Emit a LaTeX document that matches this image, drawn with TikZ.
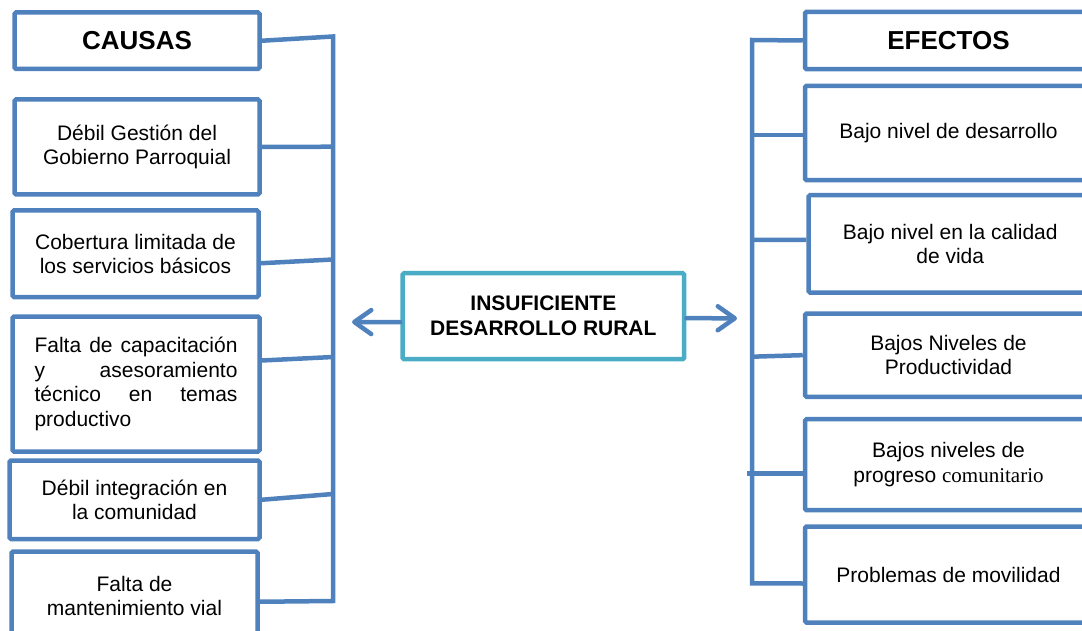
\documentclass[tikz,border=0pt]{standalone}
\usepackage{fontspec}
\setmainfont{Liberation Sans}
\newfontfamily\timesfont{Liberation Serif}
\usetikzlibrary{arrows.meta}
\definecolor{boxblue}{HTML}{4F81BD}
\definecolor{coreteal}{HTML}{4BACC6}

\begin{document}
\begin{tikzpicture}[x=1pt, y=-1pt,
  box/.style = {draw=boxblue, line width=4.5pt, rounded corners=1.5pt, fill=white, inner sep=0pt, align=center, font=\fontsize{21}{24.5}\selectfont},
  head/.style = {box, font=\fontsize{26}{30}\selectfont\bfseries},
  core/.style = {box, draw=coreteal, font=\fontsize{21}{25}\selectfont\bfseries},
  link/.style = {draw=boxblue, line width=4.5pt},
  tip/.style = {link, line cap=round, -{Straight Barb[length=17pt, width=24pt, round]}}]
\useasboundingbox (0,0) rectangle (1082,631);

\node[head, minimum width=245pt, minimum height=56.5pt] (c0) at (137,40.75) {CAUSAS};
\node[box, minimum width=245pt, minimum height=95pt] (c1) at (137,147) {Débil Gestión del\\Gobierno Parroquial};
\node[box, minimum width=246pt, minimum height=86.5pt] (c2) at (135.5,253.75) {Cobertura limitada de\\los servicios básicos};
\node[box, align=left, minimum width=247pt, minimum height=135pt] (c3) at (136,384) {\makebox[203pt][s]{Falta de capacitación}\\\makebox[203pt][s]{y asesoramiento}\\\makebox[203pt][s]{técnico en temas}\\productivo};
\node[box, minimum width=250pt, minimum height=78.5pt] (c4) at (134.5,499.75) {Débil integración en\\la comunidad};
\node[box, minimum width=246pt, minimum height=88.5pt] (c5) at (134.5,595.75) {Falta de\\mantenimiento vial};

\node[core, minimum width=281.7pt, minimum height=86pt] (core) at (543.35,316.2) {INSUFICIENTE\\DESARROLLO RURAL};

\node[head, minimum width=287pt, minimum height=57.4pt] (e0) at (948.5,40.5) {EFECTOS};
\node[box, minimum width=287pt, minimum height=94.4pt] (e1) at (948.5,133) {Bajo nivel de desarrollo};
\node[box, minimum width=283.5pt, minimum height=97.3pt] (e2) at (950.25,243.85) {Bajo nivel en la calidad\\de vida};
\node[box, minimum width=287pt, minimum height=83.3pt] (e3) at (948.5,355.15) {Bajos Niveles de\\Productividad};
\node[box, minimum width=287pt, minimum height=91pt] (e4) at (948.5,464.7) {Bajos niveles de\\progreso {\timesfont comunitario}};
\node[box, minimum width=287pt, minimum height=96pt] (e5) at (948.5,574.5) {Problemas de movilidad};

\coordinate (l0) at (333,36.5);
\coordinate (l1) at (333,146.7);
\coordinate (l2) at (333,259.5);
\coordinate (l3) at (333,357);
\coordinate (l4) at (333,494);
\coordinate (l5) at (333,601);
\coordinate (r0) at (752,40);
\coordinate (r1) at (752,135);
\coordinate (r2) at (752,240);
\coordinate (r3) at (752,356.7);
\coordinate (r4) at (747,473.3);
\coordinate (r5) at (752,583.3);
\coordinate (lt) at (352,322);
\coordinate (rt) at (737,318.3);

\draw[link] (c0.east) -- (l0) -- (l5) -- ([yshift=-6pt]c5.east);
\draw[link] (c1.east) -- (l1);
\draw[link] ([yshift=-9.5pt]c2.east) -- (l2);
\draw[link] ([yshift=23.5pt]c3.east) -- (l3);
\draw[link] (c4.east) -- (l4);

\draw[link] (e0.west) -- (r0) -- (r5) -- ([yshift=-9pt]e5.west);
\draw[link] ([yshift=-2pt]e1.west) -- (r1);
\draw[link] ([yshift=4pt]e2.west) -- (r2);
\draw[link] (e3.west) -- (r3);
\draw[link] ([yshift=-8.6pt]e4.west) -- (r4);

\draw[tip] ([yshift=-6pt]core.west) -- (lt);
\draw[tip] ([yshift=-2pt]core.east) -- (rt);
\end{tikzpicture}
\end{document}
